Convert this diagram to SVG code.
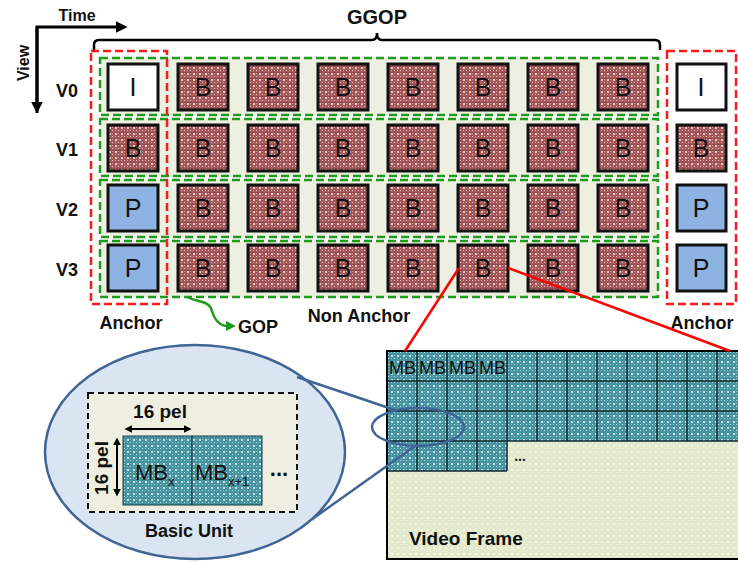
<svg xmlns="http://www.w3.org/2000/svg" width="738" height="562" viewBox="0 0 738 562">
  <defs>
    <style>
      .lbl { font-family: "Liberation Sans", Arial, sans-serif; font-weight: bold; fill: #111; }
      .glyph { font-family: "Liberation Sans", Arial, sans-serif; font-size: 25px; fill: #111; text-anchor: middle; }
      .box { stroke: #111; stroke-width: 3; }
      .bfr { fill: url(#redTex); }
      .pfr { fill: #8db3e2; }
      .ifr { fill: #ffffff; }
      .gop { fill: #edefe0; stroke: #1f9a1f; stroke-width: 2.5; stroke-dasharray: 8 4; }
      .anchor { fill: none; stroke: #ff1a1a; stroke-width: 2.5; stroke-dasharray: 8 4; }
      .grid { stroke: #102a30; stroke-width: 1.5; fill: none; }
      .mb { font-family: "Liberation Sans", Arial, sans-serif; font-size: 18px; fill: #111; }
      .mb-big { font-family: "Liberation Sans", Arial, sans-serif; font-size: 22px; fill: #111; }
      .sub { font-size: 13px; }
      .zoomline { stroke: #3f6597; stroke-width: 2.5; fill: none; }
      .redline { stroke: #ff0000; stroke-width: 2.5; }
    </style>
    <pattern id="redTex" width="6" height="6" patternUnits="userSpaceOnUse">
      <rect width="6" height="6" fill="#a45859"/>
      <rect x="1" y="1" width="2" height="2" fill="#e8c6c6"/>
      <rect x="4" y="4" width="1" height="1" fill="#e8c6c6"/>
      <rect x="4" y="1" width="1" height="1" fill="#cf9a9a"/>
      <rect x="1" y="4" width="1" height="1" fill="#cf9a9a"/>
      <rect x="0" y="0" width="6" height="0.6" fill="#8c4041"/>
    </pattern>
    <pattern id="tealTex" width="6" height="6" patternUnits="userSpaceOnUse">
      <rect width="6" height="6" fill="#4694a2"/>
      <rect x="1" y="1" width="2" height="2" fill="#c3e0de"/>
      <rect x="4" y="4" width="1" height="1" fill="#c3e0de"/>
      <rect x="4" y="1" width="1" height="1" fill="#84bcc2"/>
      <rect x="1" y="4" width="1" height="1" fill="#84bcc2"/>
    </pattern>
    <pattern id="paleTex" width="6" height="6" patternUnits="userSpaceOnUse">
      <rect width="6" height="6" fill="#e2eacb"/>
      <rect x="1" y="1" width="2" height="2" fill="#f3f6e8"/>
      <rect x="4" y="4" width="1" height="1" fill="#f3f6e8"/>
    </pattern>
    <marker id="headBlk" viewBox="0 0 10 10" refX="2" refY="5" markerWidth="4" markerHeight="4" orient="auto">
      <path d="M0,0 L10,5 L0,10 Z" fill="#000"/>
    </marker>
    <marker id="headGrn" viewBox="0 0 10 10" refX="2" refY="5" markerWidth="4" markerHeight="4" orient="auto">
      <path d="M0,0 L10,5 L0,10 Z" fill="#1f9a1f"/>
    </marker>
    <marker id="headDim" viewBox="0 0 10 10" refX="8" refY="5" markerWidth="4" markerHeight="4" orient="auto-start-reverse">
      <path d="M0,0 L10,5 L0,10 Z" fill="#000"/>
    </marker>
  </defs>

  <!-- axes -->
  <g id="axes">
    <path d="M37,113 V27 H118" fill="none" stroke="#000" stroke-width="3" marker-end="url(#headBlk)"/>
    <line x1="37" y1="27" x2="37" y2="104" stroke="#000" stroke-width="3" marker-end="url(#headBlk)"/>
    <text class="lbl" x="77" y="21" font-size="16" text-anchor="middle">Time</text>
    <text class="lbl" x="29" y="63" font-size="16" text-anchor="middle" transform="rotate(-90 29 63)">View</text>
  </g>

  <!-- GGOP brace -->
  <g id="ggop">
    <path d="M94,50 V45 Q94,40 99,40 H372 Q377,40 377,33 Q377,40 382,40 H655 Q660,40 660,45 V50" fill="none" stroke="#000" stroke-width="2.5"/>
    <text class="lbl" x="377" y="24" font-size="20" text-anchor="middle">GGOP</text>
  </g>

  <!-- view labels -->
  <g id="views" class="lbl" font-size="18" text-anchor="middle">
    <text x="67" y="97">V0</text>
    <text x="67" y="156">V1</text>
    <text x="67" y="216">V2</text>
    <text x="67" y="276">V3</text>
  </g>

  <!-- GOP rows -->
  <g id="gop-rows">
    <rect class="gop" x="100" y="58" width="558" height="57"/>
    <rect class="gop" x="100" y="119" width="558" height="57"/>
    <rect class="gop" x="100" y="180" width="558" height="57"/>
    <rect class="gop" x="100" y="241" width="558" height="56"/>
  </g>

  <!-- frames, view 0 -->
  <g id="row-v0">
    <rect class="box ifr" x="108" y="64" width="50" height="46"/><text class="glyph" x="133" y="96">I</text>
    <rect class="box bfr" x="178" y="64" width="50" height="46"/><text class="glyph" x="203" y="96">B</text>
    <rect class="box bfr" x="248" y="64" width="50" height="46"/><text class="glyph" x="273" y="96">B</text>
    <rect class="box bfr" x="318" y="64" width="50" height="46"/><text class="glyph" x="343" y="96">B</text>
    <rect class="box bfr" x="388" y="64" width="50" height="46"/><text class="glyph" x="413" y="96">B</text>
    <rect class="box bfr" x="458" y="64" width="50" height="46"/><text class="glyph" x="483" y="96">B</text>
    <rect class="box bfr" x="528" y="64" width="50" height="46"/><text class="glyph" x="553" y="96">B</text>
    <rect class="box bfr" x="598" y="64" width="50" height="46"/><text class="glyph" x="623" y="96">B</text>
    <rect class="box ifr" x="677" y="64" width="49" height="46"/><text class="glyph" x="701" y="96">I</text>
  </g>
  <!-- frames, view 1 -->
  <g id="row-v1">
    <rect class="box bfr" x="108" y="125" width="50" height="46"/><text class="glyph" x="133" y="157">B</text>
    <rect class="box bfr" x="178" y="125" width="50" height="46"/><text class="glyph" x="203" y="157">B</text>
    <rect class="box bfr" x="248" y="125" width="50" height="46"/><text class="glyph" x="273" y="157">B</text>
    <rect class="box bfr" x="318" y="125" width="50" height="46"/><text class="glyph" x="343" y="157">B</text>
    <rect class="box bfr" x="388" y="125" width="50" height="46"/><text class="glyph" x="413" y="157">B</text>
    <rect class="box bfr" x="458" y="125" width="50" height="46"/><text class="glyph" x="483" y="157">B</text>
    <rect class="box bfr" x="528" y="125" width="50" height="46"/><text class="glyph" x="553" y="157">B</text>
    <rect class="box bfr" x="598" y="125" width="50" height="46"/><text class="glyph" x="623" y="157">B</text>
    <rect class="box bfr" x="677" y="125" width="49" height="46"/><text class="glyph" x="701" y="157">B</text>
  </g>
  <!-- frames, view 2 -->
  <g id="row-v2">
    <rect class="box pfr" x="108" y="185" width="50" height="46"/><text class="glyph" x="133" y="217">P</text>
    <rect class="box bfr" x="178" y="185" width="50" height="46"/><text class="glyph" x="203" y="217">B</text>
    <rect class="box bfr" x="248" y="185" width="50" height="46"/><text class="glyph" x="273" y="217">B</text>
    <rect class="box bfr" x="318" y="185" width="50" height="46"/><text class="glyph" x="343" y="217">B</text>
    <rect class="box bfr" x="388" y="185" width="50" height="46"/><text class="glyph" x="413" y="217">B</text>
    <rect class="box bfr" x="458" y="185" width="50" height="46"/><text class="glyph" x="483" y="217">B</text>
    <rect class="box bfr" x="528" y="185" width="50" height="46"/><text class="glyph" x="553" y="217">B</text>
    <rect class="box bfr" x="598" y="185" width="50" height="46"/><text class="glyph" x="623" y="217">B</text>
    <rect class="box pfr" x="677" y="185" width="49" height="46"/><text class="glyph" x="701" y="217">P</text>
  </g>
  <!-- frames, view 3 -->
  <g id="row-v3">
    <rect class="box pfr" x="108" y="245" width="50" height="46"/><text class="glyph" x="133" y="277">P</text>
    <rect class="box bfr" x="178" y="245" width="50" height="46"/><text class="glyph" x="203" y="277">B</text>
    <rect class="box bfr" x="248" y="245" width="50" height="46"/><text class="glyph" x="273" y="277">B</text>
    <rect class="box bfr" x="318" y="245" width="50" height="46"/><text class="glyph" x="343" y="277">B</text>
    <rect class="box bfr" x="388" y="245" width="50" height="46"/><text class="glyph" x="413" y="277">B</text>
    <rect class="box bfr" x="458" y="245" width="50" height="46"/><text class="glyph" x="483" y="277">B</text>
    <rect class="box bfr" x="528" y="245" width="50" height="46"/><text class="glyph" x="553" y="277">B</text>
    <rect class="box bfr" x="598" y="245" width="50" height="46"/><text class="glyph" x="623" y="277">B</text>
    <rect class="box pfr" x="677" y="245" width="49" height="46"/><text class="glyph" x="701" y="277">P</text>
  </g>

  <!-- anchor columns -->
  <g id="anchors">
    <rect class="anchor" x="91" y="51" width="76" height="253"/>
    <rect class="anchor" x="667" y="51" width="69" height="253"/>
    <text class="lbl" x="131" y="329" font-size="18" text-anchor="middle">Anchor</text>
    <text class="lbl" x="702" y="329" font-size="18" text-anchor="middle">Anchor</text>
    <text class="lbl" x="359" y="322" font-size="18" text-anchor="middle">Non Anchor</text>
  </g>

  <!-- GOP pointer -->
  <g id="gop-label">
    <path d="M187,297 C199,303 209,300 212,311 C215,321 220,326 228,326" fill="none" stroke="#1f9a1f" stroke-width="2.5" marker-end="url(#headGrn)"/>
    <text class="lbl" x="258" y="333" font-size="18" text-anchor="middle">GOP</text>
  </g>

  <!-- video frame -->
  <g id="video-frame">
    <rect x="387" y="351" width="360" height="208" fill="url(#paleTex)"/>
    <rect x="387" y="351" width="360" height="90" fill="url(#tealTex)"/>
    <rect x="387" y="441" width="120" height="30" fill="url(#tealTex)"/>
    <path class="grid" d="M417,351 V471 M447,351 V471 M477,351 V471 M507,351 V471 M537,351 V441 M567,351 V441 M597,351 V441 M627,351 V441 M657,351 V441 M687,351 V441 M717,351 V441 M387,381 H738 M387,411 H738 M387,441 H738 M387,471 H507"/>
    <rect x="387" y="351" width="360" height="208" fill="none" stroke="#000" stroke-width="2"/>
    <g class="mb">
      <text x="389" y="374">MB</text>
      <text x="419" y="374">MB</text>
      <text x="449" y="374">MB</text>
      <text x="479" y="374">MB</text>
    </g>
    <text class="lbl" x="520" y="461" font-size="14" text-anchor="middle">...</text>
    <text class="lbl" x="409" y="545" font-size="19">Video Frame</text>
  </g>

  <!-- magnified basic unit -->
  <g id="basic-unit">
    <ellipse cx="195" cy="452" rx="150" ry="107" fill="#dbe5f1" stroke="#3f6597" stroke-width="2.5"/>
    <rect x="88" y="393" width="209" height="119" fill="#eeefe0" stroke="#111" stroke-width="2" stroke-dasharray="6 4"/>
    <rect x="123" y="436" width="69" height="69" fill="url(#tealTex)" stroke="#1a3a40" stroke-width="1"/>
    <rect x="192" y="436" width="70" height="69" fill="url(#tealTex)" stroke="#1a3a40" stroke-width="1"/>
    <text class="mb-big" x="135" y="480">MB<tspan class="sub" dy="6">x</tspan></text>
    <text class="mb-big" x="195" y="480">MB<tspan class="sub" dy="6">x+1</tspan></text>
    <text class="lbl" x="279" y="476" font-size="22" text-anchor="middle">...</text>
    <line x1="126" y1="429" x2="190" y2="429" stroke="#000" stroke-width="2" marker-start="url(#headDim)" marker-end="url(#headDim)"/>
    <text class="lbl" x="160" y="418" font-size="19" text-anchor="middle">16 pel</text>
    <line x1="117" y1="439" x2="117" y2="495" stroke="#000" stroke-width="2" marker-start="url(#headDim)" marker-end="url(#headDim)"/>
    <text class="lbl" x="108" y="468" font-size="19" text-anchor="middle" transform="rotate(-90 108 468)">16 pel</text>
    <text class="lbl" x="189" y="537" font-size="18" text-anchor="middle">Basic Unit</text>
  </g>

  <!-- connectors -->
  <g id="connectors">
    <line class="redline" x1="459" y1="268" x2="405" y2="351"/>
    <line class="redline" x1="508" y1="268" x2="730" y2="351"/>
    <ellipse class="zoomline" cx="418" cy="427" rx="46" ry="19"/>
    <line class="zoomline" x1="297" y1="377" x2="395" y2="410"/>
    <line class="zoomline" x1="311" y1="520" x2="415" y2="446"/>
  </g>
</svg>
